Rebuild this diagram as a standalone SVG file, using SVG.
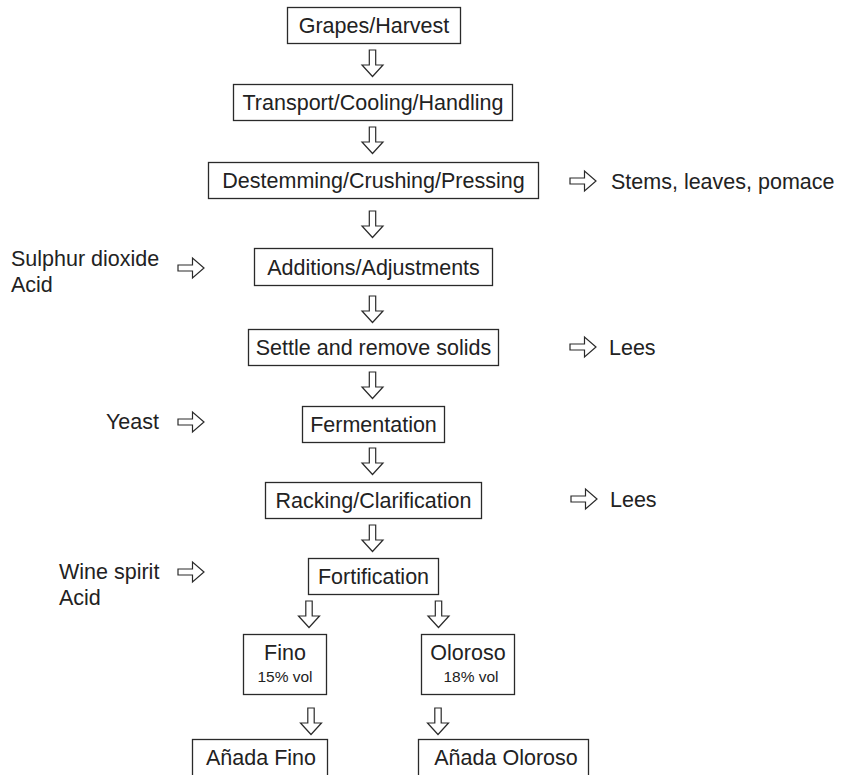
<svg xmlns="http://www.w3.org/2000/svg" width="845" height="775" viewBox="0 0 845 775">
  <style>
    .box { fill: #fff; stroke: #2a2a2a; stroke-width: 1.3; }
    .lbl { font-family: "Liberation Sans", Arial, Helvetica, sans-serif; font-size: 21.5px; fill: #222; }
    .c { text-anchor: middle; }
    .sm { font-size: 15.5px; }
    .arr { fill: #fff; stroke: #2a2a2a; stroke-width: 1.2; stroke-linejoin: miter; }
  </style>
  <defs>
    <!-- hollow block arrow pointing down, origin at top centre -->
    <path id="adown" class="arr" d="M-3.2,0 V15 H-10.5 L0,26.5 L10.5,15 H3.2 V0 Z"/>
    <!-- hollow block arrow pointing right, origin at left centre -->
    <path id="aright" class="arr" d="M0,-3 H14.5 V-10 L26,0 L14.5,10 V3 H0 Z"/>
  </defs>
  <rect width="845" height="775" fill="#fff"/>

  <g id="connectors">
    <use href="#adown" x="372.5" y="50"/>
    <use href="#adown" x="372.5" y="127"/>
    <use href="#adown" x="372.5" y="211"/>
    <use href="#adown" x="372.5" y="296"/>
    <use href="#adown" x="372.5" y="372"/>
    <use href="#adown" x="372.5" y="448"/>
    <use href="#adown" x="372.5" y="525"/>
    <use href="#adown" x="309" y="601"/>
    <use href="#adown" x="438.5" y="601"/>
    <use href="#adown" x="311" y="708"/>
    <use href="#adown" x="438" y="708"/>
    <use href="#aright" x="570" y="181"/>
    <use href="#aright" x="570" y="347"/>
    <use href="#aright" x="571" y="499"/>
    <use href="#aright" x="178" y="268"/>
    <use href="#aright" x="178" y="422"/>
    <use href="#aright" x="178" y="572"/>
  </g>

  <g id="grapes">
    <rect class="box" x="287.5" y="7.5" width="173" height="36"/>
    <text class="lbl c" x="374" y="33">Grapes/Harvest</text>
  </g>
  <g id="transport">
    <rect class="box" x="233.5" y="84.5" width="279" height="36"/>
    <text class="lbl c" x="373" y="110">Transport/Cooling/Handling</text>
  </g>
  <g id="destemming">
    <rect class="box" x="208.5" y="162.5" width="330" height="36"/>
    <text class="lbl c" x="373.5" y="188">Destemming/Crushing/Pressing</text>
  </g>
  <g id="stems">
    <text class="lbl" x="611" y="189">Stems, leaves, pomace</text>
  </g>
  <g id="additives1">
    <text class="lbl" x="11" y="266">Sulphur dioxide</text>
    <text class="lbl" x="11" y="292">Acid</text>
  </g>
  <g id="additions">
    <rect class="box" x="254.5" y="248.5" width="238" height="37"/>
    <text class="lbl c" x="373.5" y="274.5">Additions/Adjustments</text>
  </g>
  <g id="settle">
    <rect class="box" x="248.5" y="329.5" width="250" height="36"/>
    <text class="lbl c" x="373.5" y="355">Settle and remove solids</text>
  </g>
  <g id="lees1">
    <text class="lbl" x="609" y="355">Lees</text>
  </g>
  <g id="yeast">
    <text class="lbl" x="106" y="429">Yeast</text>
  </g>
  <g id="fermentation">
    <rect class="box" x="302.5" y="406.5" width="142" height="36"/>
    <text class="lbl c" x="373.5" y="432">Fermentation</text>
  </g>
  <g id="racking">
    <rect class="box" x="265.5" y="482.5" width="216" height="36"/>
    <text class="lbl c" x="373.5" y="508">Racking/Clarification</text>
  </g>
  <g id="lees2">
    <text class="lbl" x="610" y="507">Lees</text>
  </g>
  <g id="additives2">
    <text class="lbl" x="59" y="579">Wine spirit</text>
    <text class="lbl" x="59" y="605">Acid</text>
  </g>
  <g id="fortification">
    <rect class="box" x="308.5" y="558.5" width="130" height="36"/>
    <text class="lbl c" x="373.5" y="584">Fortification</text>
  </g>
  <g id="fino">
    <rect class="box" x="243.5" y="634.5" width="83" height="60"/>
    <text class="lbl c" x="285" y="660">Fino</text>
    <text class="lbl sm c" x="285" y="682">15% vol</text>
  </g>
  <g id="oloroso">
    <rect class="box" x="421.5" y="634.5" width="93" height="60"/>
    <text class="lbl c" x="468" y="660">Oloroso</text>
    <text class="lbl sm c" x="471" y="682">18% vol</text>
  </g>
  <g id="anada-fino">
    <rect class="box" x="192.5" y="739.5" width="135" height="50"/>
    <text class="lbl c" x="261" y="765">Añada Fino</text>
  </g>
  <g id="anada-oloroso">
    <rect class="box" x="418.5" y="739.5" width="170" height="50"/>
    <text class="lbl c" x="506" y="765">Añada Oloroso</text>
  </g>
</svg>
